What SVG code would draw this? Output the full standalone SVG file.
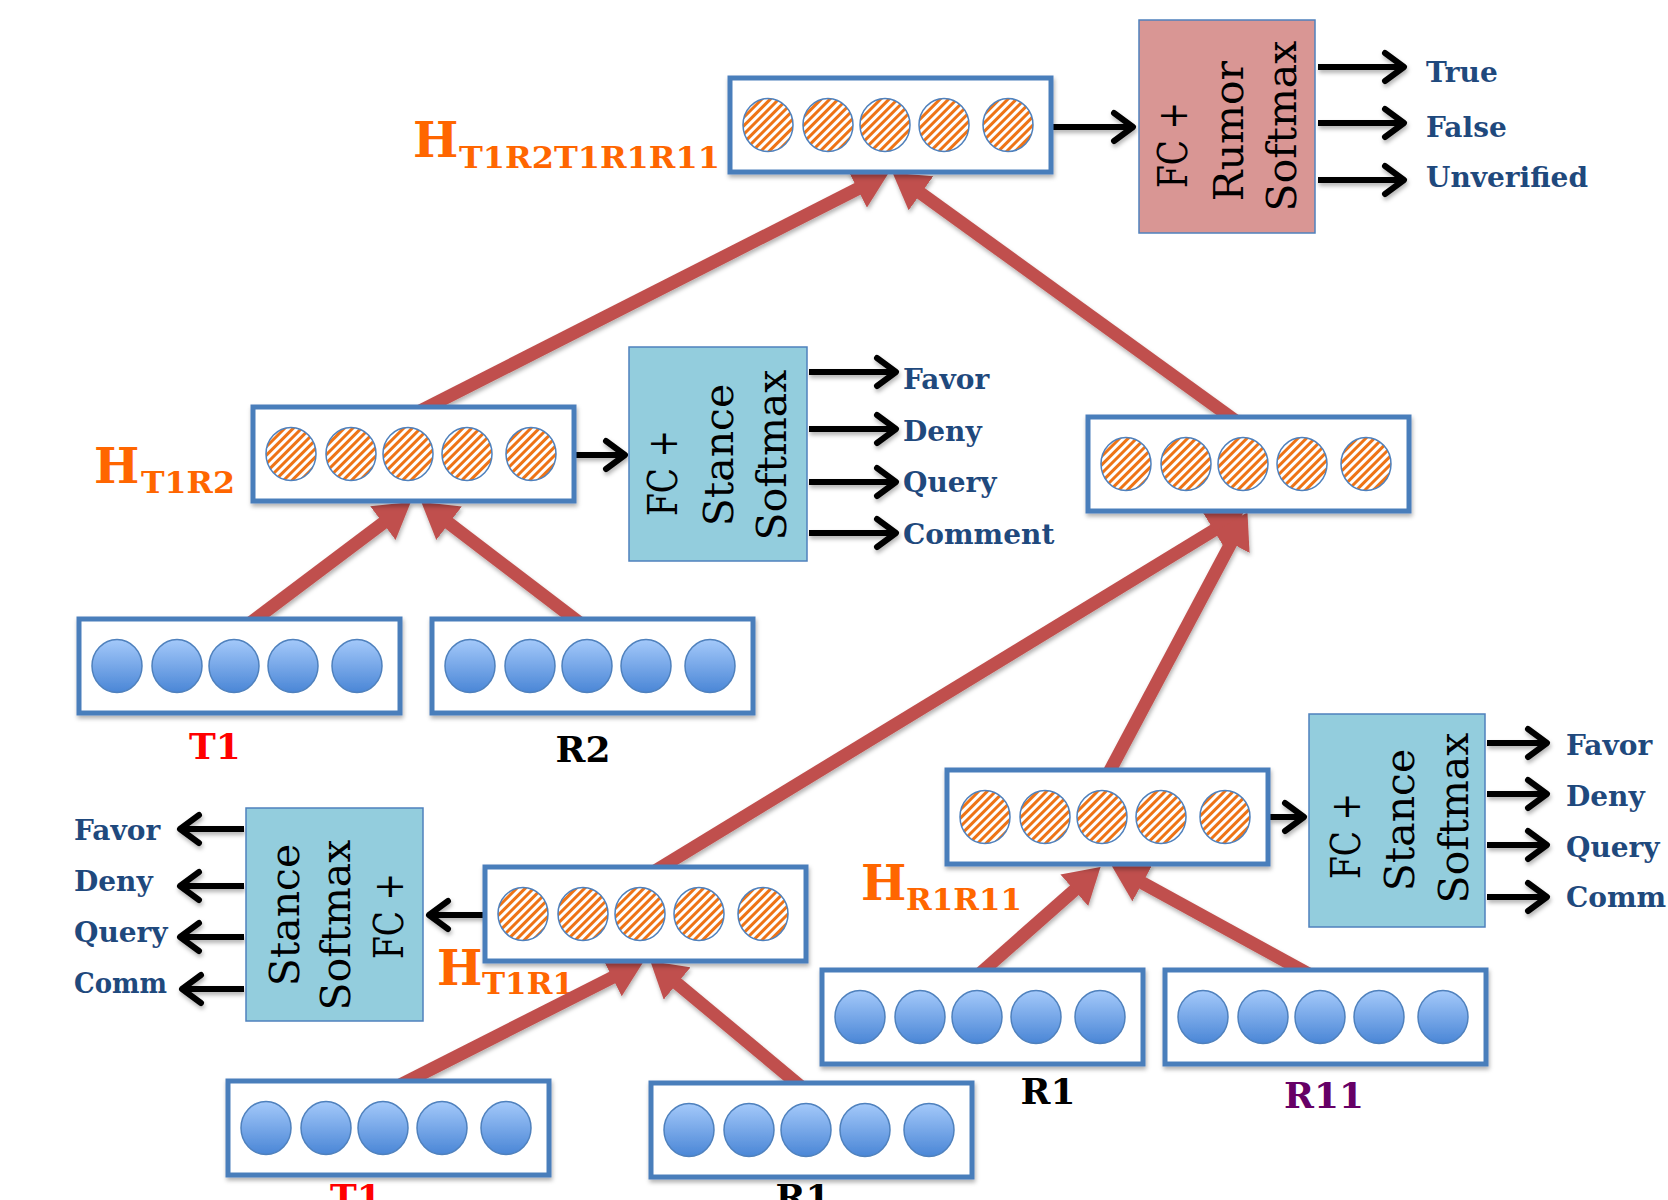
<svg xmlns="http://www.w3.org/2000/svg" xmlns:xlink="http://www.w3.org/1999/xlink" width="1668" height="1200" viewBox="0 0 1668 1200">
  <defs>
    <style>
      .vec { fill: #fff; stroke: #4A7EBB; stroke-width: 5; }
      .hc { fill: url(#hatch); stroke: #4F81BD; stroke-width: 1.5; }
      .bc { fill: url(#blueGrad); stroke: #4F81BD; stroke-width: 1.5; }
      .stance { fill: #93CDDD; stroke: #4F81BD; stroke-width: 1.5; }
      .rumor { fill: #D99694; stroke: #4F81BD; stroke-width: 1.5; }
      .btxt { font-family: "DejaVu Serif", "Liberation Serif", serif; font-size: 41px; fill: #000; text-anchor: middle; }
      .out { font-family: "DejaVu Serif", "Liberation Serif", serif; font-weight: bold; font-size: 28px; fill: #1F497D; }
      .hbig { font-family: "DejaVu Serif", "Liberation Serif", serif; font-weight: bold; font-size: 48px; fill: #FF6600; }
      .hsub { font-family: "DejaVu Serif", "Liberation Serif", serif; font-weight: bold; font-size: 29px; fill: #FF6600; }
      .name { font-family: "DejaVu Serif", "Liberation Serif", serif; font-weight: bold; font-size: 36px; text-anchor: middle; }
      .flow { stroke: #C0504D; stroke-width: 13; fill: none; marker-end: url(#bigHead); }
      .out-arrow { stroke: #000; stroke-width: 6; fill: none; marker-end: url(#chev); }
    </style>
    <pattern id="hatch" width="6" height="6" patternUnits="userSpaceOnUse" patternTransform="rotate(45)">
      <rect width="6" height="6" fill="#fff"/>
      <rect width="3" height="6" fill="#EE7314"/>
    </pattern>
    <linearGradient id="blueGrad" x1="0" y1="0" x2="0" y2="1">
      <stop offset="0" stop-color="#A4C9FA"/>
      <stop offset="1" stop-color="#4A86D6"/>
    </linearGradient>
    <filter id="sh" x="-10%" y="-20%" width="130%" height="160%">
      <feDropShadow dx="1" dy="3" stdDeviation="2" flood-color="#000" flood-opacity="0.3"/>
    </filter>
    <marker id="bigHead" viewBox="0 -21 35 42" markerWidth="35" markerHeight="42" refX="4" refY="0" orient="auto" markerUnits="userSpaceOnUse">
      <path d="M0,-21 L35,0 L0,21 z" fill="#C0504D"/>
    </marker>
    <marker id="chev" viewBox="-26 -20 32 40" markerWidth="32" markerHeight="40" refX="0" refY="0" orient="auto" markerUnits="userSpaceOnUse">
      <path d="M-19,-14 L0,0 L-19,14" fill="none" stroke="#000" stroke-width="6" stroke-linecap="round" stroke-linejoin="round"/>
    </marker>
    <!-- one vector of five cells, hatched (hidden state) or shaded (input) -->
    <g id="hvec">
      <rect class="vec" x="0" y="0" width="321" height="94"/>
      <ellipse class="hc" cx="38" cy="47" rx="25" ry="26.5"/>
      <ellipse class="hc" cx="98" cy="47" rx="25" ry="26.5"/>
      <ellipse class="hc" cx="155" cy="47" rx="25" ry="26.5"/>
      <ellipse class="hc" cx="214" cy="47" rx="25" ry="26.5"/>
      <ellipse class="hc" cx="278" cy="47" rx="25" ry="26.5"/>
    </g>
    <g id="ivec">
      <rect class="vec" x="0" y="0" width="321" height="94"/>
      <ellipse class="bc" cx="38" cy="47" rx="25" ry="26.5"/>
      <ellipse class="bc" cx="98" cy="47" rx="25" ry="26.5"/>
      <ellipse class="bc" cx="155" cy="47" rx="25" ry="26.5"/>
      <ellipse class="bc" cx="214" cy="47" rx="25" ry="26.5"/>
      <ellipse class="bc" cx="278" cy="47" rx="25" ry="26.5"/>
    </g>
  </defs>

  <rect width="1668" height="1200" fill="#fff"/>

  <!-- hidden-state labels (drawn first so the flow arrows may cross them) -->
  <g id="hidden-labels">
    <text x="413" y="157"><tspan class="hbig">H</tspan></text>
    <text class="hsub" x="459" y="168" textLength="261" lengthAdjust="spacingAndGlyphs">T1R2T1R1R11</text>
    <text x="94" y="483"><tspan class="hbig">H</tspan></text>
    <text class="hsub" x="141" y="493" textLength="94" lengthAdjust="spacingAndGlyphs">T1R2</text>
    <text x="861" y="900"><tspan class="hbig">H</tspan></text>
    <text class="hsub" x="906" y="910" textLength="116" lengthAdjust="spacingAndGlyphs">R1R11</text>
    <text x="437" y="985"><tspan class="hbig">H</tspan></text>
    <text class="hsub" x="482" y="994" textLength="92" lengthAdjust="spacingAndGlyphs">T1R1</text>
  </g>

  <!-- connectors -->
  <g id="connectors">
    <g filter="url(#sh)">
      <line class="flow" x1="418" y1="412" x2="861" y2="187.1"/>
      <line class="flow" x1="1240" y1="424" x2="917.7" y2="191"/>
      <line class="flow" x1="245" y1="627" x2="386.1" y2="520.7"/>
      <line class="flow" x1="585" y1="627" x2="445.9" y2="520.8"/>
      <line class="flow" x1="650" y1="874" x2="1217.2" y2="528.3"/>
      <line class="flow" x1="1106" y1="778" x2="1232.9" y2="539.5"/>
      <line class="flow" x1="976" y1="977" x2="1077.3" y2="887.6"/>
      <line class="flow" x1="1316" y1="978" x2="1139" y2="881"/>
      <line class="flow" x1="394" y1="1088" x2="615.8" y2="975.7"/>
      <line class="flow" x1="805" y1="1090" x2="674.1" y2="980.9"/>
    </g>
    <g filter="url(#sh)">
      <line class="out-arrow" x1="1053" y1="127" x2="1133" y2="127"/>
      <line class="out-arrow" x1="1318" y1="67" x2="1404" y2="67"/>
      <line class="out-arrow" x1="1318" y1="123" x2="1404" y2="123"/>
      <line class="out-arrow" x1="1318" y1="180" x2="1404" y2="180"/>
      <line class="out-arrow" x1="576" y1="455" x2="625" y2="455"/>
      <line class="out-arrow" x1="809" y1="372" x2="896" y2="372"/>
      <line class="out-arrow" x1="809" y1="429" x2="896" y2="429"/>
      <line class="out-arrow" x1="809" y1="482" x2="896" y2="482"/>
      <line class="out-arrow" x1="809" y1="533" x2="896" y2="533"/>
      <line class="out-arrow" x1="486" y1="915" x2="429" y2="915"/>
      <line class="out-arrow" x1="244" y1="829" x2="180" y2="829"/>
      <line class="out-arrow" x1="244" y1="886" x2="180" y2="886"/>
      <line class="out-arrow" x1="244" y1="937" x2="180" y2="937"/>
      <line class="out-arrow" x1="244" y1="989" x2="182" y2="989"/>
      <line class="out-arrow" x1="1270" y1="817" x2="1304" y2="817"/>
      <line class="out-arrow" x1="1487" y1="743" x2="1547" y2="743"/>
      <line class="out-arrow" x1="1487" y1="794" x2="1547" y2="794"/>
      <line class="out-arrow" x1="1487" y1="845" x2="1547" y2="845"/>
      <line class="out-arrow" x1="1487" y1="897" x2="1547" y2="897"/>
    </g>
  </g>

  <!-- vectors -->
  <g id="h-root" filter="url(#sh)"><use xlink:href="#hvec" transform="translate(730,78)"/></g>
  <g id="h-t1r2" filter="url(#sh)"><use xlink:href="#hvec" transform="translate(253,407)"/></g>
  <g id="h-t1r1r11" filter="url(#sh)"><use xlink:href="#hvec" transform="translate(1088,417)"/></g>
  <g id="h-r1r11" filter="url(#sh)"><use xlink:href="#hvec" transform="translate(947,770)"/></g>
  <g id="h-t1r1" filter="url(#sh)"><use xlink:href="#hvec" transform="translate(485,867)"/></g>

  <g id="in-t1-a">
    <use xlink:href="#ivec" transform="translate(79,619)" filter="url(#sh)"/>
    <text class="name" x="215" y="759" fill="#FF0000">T1</text>
  </g>
  <g id="in-r2">
    <use xlink:href="#ivec" transform="translate(432,619)" filter="url(#sh)"/>
    <text class="name" x="583" y="762" fill="#000">R2</text>
  </g>
  <g id="in-r1-a">
    <use xlink:href="#ivec" transform="translate(822,970)" filter="url(#sh)"/>
    <text class="name" x="1048" y="1104" fill="#000">R1</text>
  </g>
  <g id="in-r11">
    <use xlink:href="#ivec" transform="translate(1165,970)" filter="url(#sh)"/>
    <text class="name" x="1324" y="1108" fill="#660066">R11</text>
  </g>
  <g id="in-t1-b">
    <use xlink:href="#ivec" transform="translate(228,1081)" filter="url(#sh)"/>
    <text class="name" x="356" y="1210" fill="#FF0000">T1</text>
  </g>
  <g id="in-r1-b">
    <use xlink:href="#ivec" transform="translate(651,1083)" filter="url(#sh)"/>
    <text class="name" x="803" y="1210" fill="#000">R1</text>
  </g>

  <!-- classifier heads -->
  <g id="rumor-head">
    <rect class="rumor" x="1139" y="20" width="176" height="213"/>
    <text class="btxt" transform="translate(1187,145) rotate(-90)" textLength="86" lengthAdjust="spacingAndGlyphs">FC +</text>
    <text class="btxt" transform="translate(1243,131) rotate(-90)">Rumor</text>
    <text class="btxt" transform="translate(1296,126) rotate(-90)">Softmax</text>
    <text class="out" x="1426" y="82">True</text>
    <text class="out" x="1426" y="137">False</text>
    <text class="out" x="1426" y="187">Unverified</text>
  </g>

  <g id="stance-head-t1r2">
    <rect class="stance" x="629" y="347" width="178" height="214"/>
    <text class="btxt" transform="translate(677,473) rotate(-90)" textLength="86" lengthAdjust="spacingAndGlyphs">FC +</text>
    <text class="btxt" transform="translate(733,455) rotate(-90)">Stance</text>
    <text class="btxt" transform="translate(786,455) rotate(-90)">Softmax</text>
    <text class="out" x="903" y="389">Favor</text>
    <text class="out" x="903" y="441">Deny</text>
    <text class="out" x="903" y="492">Query</text>
    <text class="out" x="903" y="544">Comment</text>
  </g>

  <g id="stance-head-t1r1">
    <rect class="stance" x="246" y="808" width="177" height="213"/>
    <text class="btxt" transform="translate(299,915) rotate(-90)">Stance</text>
    <text class="btxt" transform="translate(350,925) rotate(-90)">Softmax</text>
    <text class="btxt" transform="translate(403,916) rotate(-90)" textLength="86" lengthAdjust="spacingAndGlyphs">FC +</text>
    <text class="out" x="74" y="840">Favor</text>
    <text class="out" x="74" y="891">Deny</text>
    <text class="out" x="74" y="942">Query</text>
    <text class="out" x="74" y="993" textLength="93" lengthAdjust="spacingAndGlyphs">Comm</text>
  </g>

  <g id="stance-head-r1r11">
    <rect class="stance" x="1309" y="714" width="176" height="213"/>
    <text class="btxt" transform="translate(1360,836) rotate(-90)" textLength="86" lengthAdjust="spacingAndGlyphs">FC +</text>
    <text class="btxt" transform="translate(1414,820) rotate(-90)">Stance</text>
    <text class="btxt" transform="translate(1468,818) rotate(-90)">Softmax</text>
    <text class="out" x="1566" y="755">Favor</text>
    <text class="out" x="1566" y="806">Deny</text>
    <text class="out" x="1566" y="857">Query</text>
    <text class="out" x="1566" y="907">Comm</text>
  </g>
</svg>
